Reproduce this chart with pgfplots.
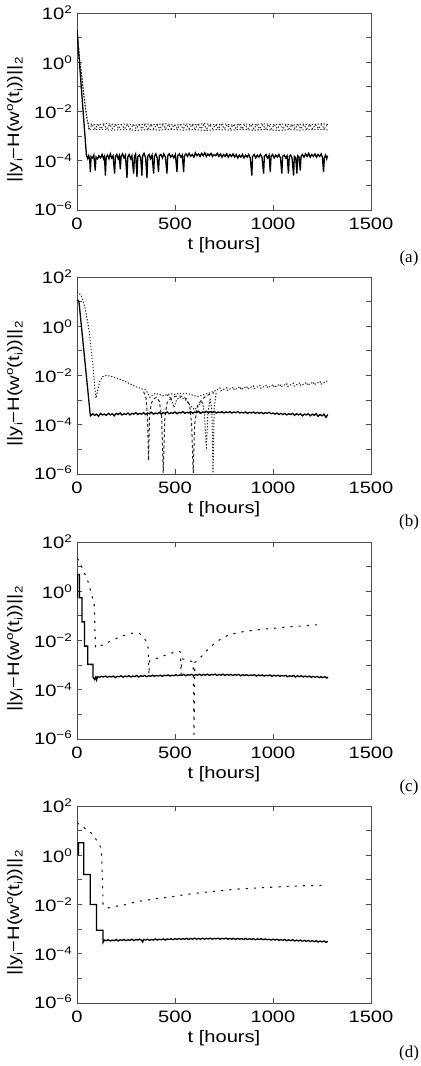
\documentclass[border=0pt]{standalone}
\usepackage{fontspec}
\setmainfont{Liberation Sans}[FakeStretch=1.22]
\newfontfamily\labelserif{Liberation Serif}
\usepackage{pgfplots}
\pgfplotsset{compat=1.18}

% raised / lowered small text for exponents and indices
\newcommand\supx[1]{\raisebox{6bp}{\fontsize{11bp}{11bp}\selectfont #1}}
\newcommand\subx[1]{\raisebox{-3.5bp}{\fontsize{11bp}{11bp}\selectfont #1}}

\pgfplotsset{
  errpanel/.style={
    scale only axis, width=294bp, height=197bp, anchor=south west,
    xmin=0, xmax=1500, ymin=1e-6, ymax=1e2,
    xtick={0,500,1000,1500}, xticklabels={0,500,1000,1500},
    ytick={1e-6,1e-4,1e-2,1,1e2}, minor ytick={1e-5,1e-3,1e-1,1e1},
    yticklabels={\raisebox{3bp}{10\supx{−6}},10\supx{−4},10\supx{−2},10\supx{0},\raisebox{-6bp}{10\supx{2}}},
    tick align=inside, major tick length=5bp, minor tick length=5bp,
    axis line style={black!70, line width=0.9bp},
    tick style={black!70, line width=0.9bp},
    tick label style={font=\fontsize{16.5bp}{19bp}\selectfont},
    label style={font=\fontsize{16.5bp}{19bp}\selectfont},
    yticklabel style={inner sep=0pt, xshift=-5bp},
    xticklabel style={inner sep=0pt, yshift=-8bp},
    xlabel={t\,\,[hours]},
    xlabel style={at={(axis description cs:0.5,0)}, anchor=center, yshift=-35bp},
    ylabel={||y\subx{i}−H(w\supx{o}(t\subx{i}))||\subx{2}},
    ylabel style={at={(axis description cs:-0.211,0.457)}, anchor=center},
  },
  sol/.style={black, line width=1.3bp, mark=none},
  fdots/.style={black!85, line width=1bp, dash pattern=on 1.3bp off 1.7bp, mark=none},
  fdash/.style={black!85, line width=1bp, dash pattern=on 3bp off 2.5bp, mark=none},
  sdots/.style={black!90, line width=1.1bp, dash pattern=on 2.2bp off 6bp, mark=none},
}

\begin{document}
\begin{tikzpicture}
\useasboundingbox (0,0) rectangle (421bp,1066bp);

% ---------------- (a) ----------------
\begin{semilogyaxis}[errpanel, at={(77bp,856bp)}]
\addplot[fdots] coordinates {(0,25)(5,8)(14,1.0)(22,0.4)(31,0.083)(42,0.017)(54,3.7e-3)(62,3.1e-3)
 (100,2.9e-3)(150,3.2e-3)(200,2.9e-3)(250,3.1e-3)(300,2.8e-3)(350,3.1e-3)(400,2.9e-3)(450,3.2e-3)
 (500,2.8e-3)(550,3.1e-3)(600,2.9e-3)(650,3.2e-3)(700,2.9e-3)(750,3.1e-3)(800,2.8e-3)(850,3.1e-3)
 (900,2.9e-3)(950,3.2e-3)(1000,2.9e-3)(1050,3.1e-3)(1100,2.8e-3)(1150,3.1e-3)(1200,2.9e-3)(1250,3.2e-3)(1280,3.0e-3)};
\addplot[fdots] coordinates {(0,20)(6,6)(15,0.8)(24,0.3)(33,0.06)(44,0.012)(56,3e-3)
 (62,2.0e-3)(77,2.9e-3)(92,2.0e-3)(107,2.9e-3)(122,2.0e-3)(137,2.9e-3)(152,2.0e-3)(167,2.9e-3)
 (182,2.0e-3)(197,2.9e-3)(212,2.0e-3)(227,2.9e-3)(242,2.0e-3)(257,2.9e-3)(272,2.0e-3)(287,2.9e-3)
 (302,2.0e-3)(317,2.9e-3)(332,2.0e-3)(347,2.9e-3)(362,2.0e-3)(377,2.9e-3)(392,2.0e-3)(407,2.9e-3)
 (422,2.0e-3)(437,2.9e-3)(452,2.0e-3)(467,2.9e-3)(482,2.0e-3)(497,2.9e-3)(512,2.0e-3)(527,2.9e-3)
 (542,2.0e-3)(557,2.9e-3)(572,2.0e-3)(587,2.9e-3)(602,2.0e-3)(617,2.9e-3)(632,2.0e-3)(647,2.9e-3)
 (662,2.0e-3)(677,2.9e-3)(692,2.0e-3)(707,2.9e-3)(722,2.0e-3)(737,2.9e-3)(752,2.0e-3)(767,2.9e-3)
 (782,2.0e-3)(797,2.9e-3)(812,2.0e-3)(827,2.9e-3)(842,2.0e-3)(857,2.9e-3)(872,2.0e-3)(887,2.9e-3)
 (902,2.0e-3)(917,2.9e-3)(932,2.0e-3)(947,2.9e-3)(962,2.0e-3)(977,2.9e-3)(992,2.0e-3)(1007,2.9e-3)
 (1022,2.0e-3)(1037,2.9e-3)(1052,2.0e-3)(1067,2.9e-3)(1082,2.0e-3)(1097,2.9e-3)(1112,2.0e-3)(1127,2.9e-3)
 (1142,2.0e-3)(1157,2.9e-3)(1172,2.0e-3)(1187,2.9e-3)(1202,2.0e-3)(1217,2.9e-3)(1232,2.0e-3)(1247,2.9e-3)
 (1262,2.0e-3)(1277,2.9e-3)};
\addplot[fdots] coordinates {(58,2.2e-3)(62,1.8e-3)(120,1.9e-3)(180,1.75e-3)(240,1.85e-3)(300,1.7e-3)
 (360,1.85e-3)(420,1.75e-3)(480,1.9e-3)(540,1.75e-3)(600,1.85e-3)(660,1.7e-3)(720,1.85e-3)(780,1.75e-3)
 (840,1.9e-3)(900,1.75e-3)(960,1.85e-3)(1020,1.7e-3)(1080,1.85e-3)(1140,1.75e-3)(1200,1.9e-3)(1280,1.8e-3)};
\addplot[sol] coordinates {(0,20)(48,1.7e-4)
 (55,1.2e-4)(60,1.6e-4)(65,1.1e-4)(68,3.5e-5)(72,1.5e-4)(80,1.3e-4)(86,1.7e-4)(93,4e-5)(97,1.4e-4)
 (105,1.2e-4)(112,1.6e-4)(120,1.3e-4)(128,1.8e-4)(135,1.2e-4)(140,1.5e-4)(145,2.5e-5)(149,1.4e-4)
 (156,1.7e-4)(163,1.2e-4)(170,1.9e-4)(177,1.3e-4)(184,1.6e-4)(192,3e-5)(196,1.5e-4)(203,1.8e-4)
 (210,1.2e-4)(216,1.6e-4)(221,4.5e-5)(225,1.5e-4)(232,1.9e-4)(240,1.3e-4)(247,1.7e-4)(255,2e-5)
 (259,1.4e-4)(266,1.8e-4)(274,1.2e-4)(280,1.6e-4)(289,3e-5)(293,1.5e-4)(299,1.9e-4)(306,2.2e-5)
 (310,1.4e-4)(318,1.7e-4)(325,1.3e-4)(331,2.5e-5)(335,1.6e-4)(342,2e-4)(350,1.3e-4)(357,2e-5)
 (361,1.5e-4)(368,1.8e-4)(375,1.2e-4)(383,1.7e-4)(391,3e-5)(395,1.5e-4)(402,1.9e-4)(409,1.3e-4)
 (416,3.5e-5)(420,1.6e-4)(428,1.8e-4)(436,1.3e-4)(443,1.9e-4)(451,1.4e-4)(459,3e-5)(463,1.6e-4)
 (470,1.9e-4)(478,1.4e-4)(486,1.7e-4)(494,1.3e-4)(502,1.8e-4)(510,3.5e-5)(514,1.6e-4)(522,1.9e-4)
 (530,1.4e-4)(537,1.7e-4)(544,3.5e-5)(548,1.6e-4)(556,1.9e-4)(564,1.5e-4)(572,2e-4)(580,1.5e-4)
 (588,1.8e-4)(596,1.4e-4)(604,2.1e-4)(612,1.6e-4)(620,1.9e-4)(628,1.5e-4)(636,2e-4)(644,1.6e-4)
 (652,2.1e-4)(660,1.5e-4)(668,1.9e-4)(676,1.6e-4)(684,2e-4)(692,1.5e-4)(700,1.8e-4)(708,1.6e-4)
 (716,2e-4)(724,1.5e-4)(732,1.9e-4)(740,1.4e-4)(748,1.8e-4)(756,1.5e-4)(764,1.9e-4)(772,1.4e-4)
 (780,1.8e-4)(788,1.5e-4)(796,1.9e-4)(804,1.4e-4)(812,1.8e-4)(820,1.3e-4)(828,1.7e-4)(836,1.4e-4)
 (844,1.8e-4)(852,1.3e-4)(860,1.7e-4)(868,1.4e-4)(876,1.8e-4)(884,1.3e-4)(892,2.5e-5)(896,1.5e-4)
 (904,1.8e-4)(912,1.3e-4)(920,1.7e-4)(928,1.4e-4)(936,1.8e-4)(944,1.4e-4)(952,3e-5)(956,1.5e-4)
 (964,1.8e-4)(972,1.3e-4)(980,1.7e-4)(986,3.5e-5)(990,1.5e-4)(998,1.8e-4)(1006,1.3e-4)(1014,1.7e-4)
 (1022,1.4e-4)(1030,1.8e-4)(1038,1.3e-4)(1045,3e-5)(1049,1.5e-4)(1057,1.7e-4)(1065,1.3e-4)(1072,1.6e-4)
 (1079,3e-5)(1083,1.5e-4)(1090,1.7e-4)(1097,1.3e-4)(1105,2.5e-5)(1109,1.5e-4)(1116,1.3e-4)(1122,3e-5)
 (1126,1.6e-4)(1133,1.4e-4)(1139,4e-5)(1143,1.5e-4)(1150,1.8e-4)(1158,1.4e-4)(1166,1.9e-4)(1174,1.5e-4)
 (1182,2e-4)(1190,1.4e-4)(1198,1.8e-4)(1206,1.5e-4)(1214,1.9e-4)(1222,1.4e-4)(1230,1.8e-4)(1238,1.5e-4)
 (1246,1.9e-4)(1252,1.4e-4)(1258,3.5e-5)(1262,1.3e-4)(1268,1.7e-4)(1274,1.2e-4)(1278,1.6e-4)};
\end{semilogyaxis}

% ---------------- (b) ----------------
\begin{semilogyaxis}[errpanel, at={(77bp,592bp)}]
\addplot[fdots] coordinates {(0,25)(10,22)(22,17)(39,6.5)(55,1.5)(65,0.4)(75,0.07)(82,0.023)(90,3.6e-3)
 (97,1.2e-3)(103,2e-3)(115,5.5e-3)(130,8.9e-3)(150,1e-2)(180,9e-3)(210,7.5e-3)(240,6e-3)(270,4.6e-3)
 (300,3.5e-3)(330,2.9e-3)(350,2.6e-3)(362,1.9e-3)(372,1.3e-3)(385,1.6e-3)(400,1.9e-3)(420,1.7e-3)
 (440,1.5e-3)(460,1.7e-3)(480,1.8e-3)(500,1.7e-3)(520,1.9e-3)(540,1.8e-3)(560,1.9e-3)(580,1.7e-3)
 (600,1.5e-3)(620,1.4e-3)(640,1.6e-3)(660,1.8e-3)(680,2e-3)
 (700,2.29e-3)(730,3.1e-3)(734,2.39e-3)(764,3.2e-3)(768,2.48e-3)(798,3.35e-3)(802,2.59e-3)(832,3.5e-3)
 (836,2.69e-3)(866,3.63e-3)(870,2.81e-3)(900,3.79e-3)(904,2.92e-3)(934,3.95e-3)(938,3.04e-3)(968,4.1e-3)
 (972,3.17e-3)(1002,4.28e-3)(1006,3.3e-3)(1036,4.45e-3)(1040,3.44e-3)(1070,4.64e-3)(1074,3.57e-3)(1104,4.82e-3)
 (1108,3.72e-3)(1138,5.02e-3)(1142,3.88e-3)(1172,5.24e-3)(1176,4.04e-3)(1206,5.45e-3)(1210,4.2e-3)(1240,5.67e-3)
 (1244,4.38e-3)(1274,5.9e-3)(1280,6e-3)};
\addplot[fdash] coordinates {(340,2.2e-3)(352,1.2e-3)(360,2e-4)(365,3.5e-6)(370,2e-4)(378,7e-4)(390,1.1e-3)
 (405,1.3e-3)(420,9e-4)(432,2e-4)(440,1.1e-6)(448,2e-4)(460,8e-4)(480,1.2e-3)(500,1.4e-3)(520,1.5e-3)
 (540,1.4e-3)(560,1.1e-3)(575,6e-4)(585,1e-4)(593,1.1e-6)(600,1e-4)(615,6e-4)(635,1e-3)(655,1.4e-3)
 (675,1.7e-3)(700,2e-3)};
\addplot[fdots] coordinates {(460,1.6e-3)(480,1.2e-3)(495,5e-4)(505,9e-4)(520,1.3e-3)(550,1.1e-3)
 (580,6e-4)(600,4e-4)(620,6e-4)(640,9e-4)(650,3e-4)(660,1e-5)(668,3e-4)(680,1.2e-3)(688,4e-4)
 (694,1.1e-6)(700,5e-4)(710,2e-3)};
\addplot[sol] coordinates {(3,12)(10,10)(68,2.4e-4)
 (70,2.3e-4)(80,2.8e-4)(90,2.4e-4)(100,2.7e-4)(110,2.2e-4)(120,2.9e-4)(130,2.5e-4)(140,2.7e-4)(150,2.4e-4)
 (160,2.9e-4)(170,2.5e-4)(180,2.8e-4)(190,2.3e-4)(200,2.9e-4)(210,2.6e-4)(220,3.0e-4)(230,2.5e-4)
 (240,2.8e-4)(250,2.6e-4)(260,3.0e-4)(270,2.5e-4)(280,2.9e-4)(290,2.7e-4)(300,3.1e-4)(310,2.6e-4)
 (320,2.9e-4)(330,2.7e-4)(340,3.1e-4)(350,2.6e-4)(360,3.0e-4)(370,2.8e-4)(380,3.2e-4)(390,2.7e-4)
 (400,3.0e-4)(410,2.8e-4)(420,3.2e-4)(430,2.7e-4)(440,3.1e-4)(450,2.9e-4)(460,3.3e-4)(470,2.8e-4)
 (480,3.1e-4)(490,2.9e-4)(500,3.3e-4)(510,2.8e-4)(520,3.2e-4)(530,3.0e-4)(540,3.4e-4)(550,2.9e-4)
 (560,3.2e-4)(570,3.0e-4)(580,3.4e-4)(590,2.9e-4)(600,3.3e-4)(610,3.1e-4)(620,3.5e-4)(630,2.9e-4)
 (640,3.3e-4)(650,3.1e-4)(660,3.5e-4)(670,3.0e-4)(680,3.4e-4)(690,3.1e-4)(700,3.5e-4)(710,3.0e-4)
 (720,3.3e-4)(730,3.1e-4)(740,3.4e-4)(750,3.0e-4)(760,3.3e-4)(770,3.1e-4)(780,3.4e-4)(790,3.0e-4)
 (800,3.3e-4)(810,3.1e-4)(820,3.4e-4)(830,3.0e-4)(840,3.2e-4)(850,3.0e-4)(860,3.3e-4)(870,2.9e-4)
 (880,3.2e-4)(890,3.0e-4)(900,3.3e-4)(910,2.9e-4)(920,3.2e-4)(930,2.9e-4)(940,3.2e-4)(950,2.8e-4)
 (960,3.1e-4)(970,2.9e-4)(980,3.2e-4)(990,2.8e-4)(1000,3.0e-4)(1010,2.7e-4)(1020,3.0e-4)(1030,2.6e-4)
 (1040,2.9e-4)(1050,2.6e-4)(1060,2.9e-4)(1070,2.5e-4)(1080,2.8e-4)(1090,2.6e-4)(1100,2.9e-4)(1110,2.4e-4)
 (1120,2.8e-4)(1130,2.5e-4)(1140,2.8e-4)(1150,2.3e-4)(1160,2.7e-4)(1170,2.5e-4)(1180,2.8e-4)(1190,2.3e-4)
 (1200,2.7e-4)(1210,2.4e-4)(1220,2.8e-4)(1230,2.2e-4)(1240,2.6e-4)(1250,2.3e-4)(1260,2.7e-4)(1270,2.0e-4)
 (1280,2.6e-4)};
\end{semilogyaxis}

% ---------------- (c) ----------------
\begin{semilogyaxis}[errpanel, at={(77bp,327bp)}]
\addplot[sdots] coordinates {(0,21)(10,18)(20,12)(30,7)(40,5)(50,3.5)(60,2)(70,1)(80,0.5)(88,0.3)
 (92,0.02)(95,5e-3)(120,6e-3)(150,8e-3)(180,1e-2)(210,1.3e-2)(240,1.6e-2)(270,1.9e-2)(300,2.1e-2)
 (320,1.9e-2)(340,1.3e-2)(355,9e-3)(363,5e-3)(367,4e-4)(370,1.5e-3)(380,1.6e-3)(400,1.8e-3)(430,2.2e-3)
 (460,2.7e-3)(490,3.2e-3)(520,3.7e-3)(528,3.4e-3)(531,4e-4)(534,1.8e-3)(560,1.7e-3)(585,1.4e-3)
 (593,1.2e-3)(597,1.5e-6)(601,1.3e-3)(615,1.5e-3)(640,2.5e-3)(670,4.5e-3)(700,7.5e-3)(730,1.1e-2)
 (760,1.5e-2)(800,1.9e-2)(850,2.3e-2)(900,2.6e-2)(950,2.9e-2)(1000,3.1e-2)(1050,3.4e-2)(1100,3.7e-2)
 (1150,3.9e-2)(1200,4.2e-2)(1250,4.5e-2)};
\addplot[sol] coordinates {(2,0.5)(3,4.8)(13,4.8)(13,0.54)(25,0.54)(25,0.057)(38,0.057)(38,5.9e-3)
 (55,5.9e-3)(55,1.07e-3)(82,1.07e-3)
 (82,3.2e-4)(90,2.6e-4)(96,3.3e-4)(100,2.5e-4)(105,3.4e-4)(115,3.2e-4)(125,3.5e-4)(135,3.3e-4)(145,3.6e-4)
 (155,3.2e-4)(165,3.5e-4)(175,3.3e-4)(185,3.6e-4)(195,3.1e-4)(205,3.5e-4)(215,3.4e-4)(225,3.7e-4)
 (235,3.2e-4)(245,3.6e-4)(255,3.4e-4)(265,3.7e-4)(275,3.3e-4)(285,3.6e-4)(295,3.4e-4)(305,3.8e-4)
 (315,3.3e-4)(325,3.7e-4)(335,3.5e-4)(345,3.8e-4)(355,3.4e-4)(365,3.7e-4)(375,3.5e-4)(385,3.9e-4)
 (395,3.5e-4)(405,3.8e-4)(415,3.6e-4)(425,3.9e-4)(435,3.5e-4)(445,3.9e-4)(455,3.7e-4)(465,4.0e-4)
 (475,3.6e-4)(485,3.9e-4)(495,3.7e-4)(505,4.1e-4)(515,3.7e-4)(525,4.0e-4)(535,3.8e-4)(545,4.2e-4)
 (555,3.7e-4)(565,4.1e-4)(575,3.9e-4)(585,4.2e-4)(595,3.8e-4)(605,4.1e-4)(615,3.9e-4)(625,4.3e-4)
 (635,3.8e-4)(645,4.2e-4)(655,3.9e-4)(665,4.3e-4)(675,3.8e-4)(685,4.2e-4)(695,4.0e-4)(705,4.3e-4)
 (715,3.8e-4)(725,4.2e-4)(735,3.9e-4)(745,4.3e-4)(755,3.8e-4)(765,4.2e-4)(775,3.9e-4)(785,4.2e-4)
 (795,3.8e-4)(805,4.1e-4)(815,3.9e-4)(825,4.2e-4)(835,3.7e-4)(845,4.1e-4)(855,3.8e-4)(865,4.1e-4)
 (875,3.7e-4)(885,4.0e-4)(895,3.8e-4)(905,4.1e-4)(915,3.6e-4)(925,4.0e-4)(935,3.7e-4)(945,4.0e-4)
 (955,3.6e-4)(965,3.9e-4)(975,3.7e-4)(985,4.0e-4)(995,3.5e-4)(1005,3.9e-4)(1015,3.6e-4)(1025,3.9e-4)
 (1035,3.5e-4)(1045,3.8e-4)(1055,3.6e-4)(1065,3.8e-4)(1075,3.4e-4)(1085,3.7e-4)(1095,3.5e-4)(1105,3.8e-4)
 (1115,3.3e-4)(1125,3.7e-4)(1135,3.4e-4)(1145,3.7e-4)(1155,3.3e-4)(1165,3.6e-4)(1175,3.3e-4)(1185,3.6e-4)
 (1195,3.2e-4)(1205,3.5e-4)(1215,3.2e-4)(1225,3.5e-4)(1235,3.1e-4)(1245,3.4e-4)(1255,3.1e-4)(1265,3.4e-4)
 (1275,3.0e-4)(1280,3.3e-4)};
\end{semilogyaxis}

% ---------------- (d) ----------------
\begin{semilogyaxis}[errpanel, at={(77bp,63bp)}]
\addplot[sdots] coordinates {(0,21)(30,14)(65,9.3)(90,5.5)(124,1.9)(130,0.1)(133,9.3e-3)(150,7.5e-3)
 (167,7.3e-3)(200,8.5e-3)(250,1e-2)(303,1.3e-2)(400,1.7e-2)(473,2e-2)(550,2.5e-2)(643,3.1e-2)(730,3.6e-2)
 (813,4.2e-2)(900,4.6e-2)(983,5e-2)(1070,5.4e-2)(1153,5.75e-2)(1272,6e-2)};
\addplot[sol] coordinates {(7,1)(7,3.2)(34,3.2)(34,0.166)(68,0.166)(68,1e-2)(99,1e-2)(99,9e-4)
 (133,9e-4)
 (133,2.9e-4)(140,3.6e-4)(150,3.4e-4)(160,3.7e-4)(170,3.3e-4)(180,3.6e-4)(190,3.4e-4)(200,3.8e-4)
 (210,3.3e-4)(220,3.7e-4)(230,3.5e-4)(240,3.8e-4)(250,3.4e-4)(260,3.7e-4)(270,3.5e-4)(280,3.9e-4)
 (290,3.4e-4)(300,3.8e-4)(310,3.6e-4)(320,3.9e-4)(330,3.5e-4)(335,3.0e-4)(340,3.8e-4)(350,3.6e-4)
 (360,3.9e-4)(370,3.5e-4)(380,3.8e-4)(390,3.6e-4)(400,4.0e-4)(410,3.6e-4)(420,3.9e-4)(430,3.7e-4)
 (440,4.0e-4)(450,3.6e-4)(460,4.0e-4)(470,3.8e-4)(480,4.1e-4)(490,3.7e-4)(500,4.1e-4)(510,3.8e-4)
 (520,4.2e-4)(530,3.8e-4)(540,4.1e-4)(550,3.9e-4)(560,4.2e-4)(570,3.8e-4)(580,4.2e-4)(590,3.9e-4)
 (600,4.3e-4)(610,3.9e-4)(620,4.2e-4)(630,3.9e-4)(640,4.3e-4)(650,3.9e-4)(660,4.2e-4)(670,4.0e-4)
 (680,4.3e-4)(690,3.9e-4)(700,4.2e-4)(710,4.0e-4)(720,4.3e-4)(730,3.9e-4)(740,4.2e-4)(750,4.0e-4)
 (760,4.3e-4)(770,3.9e-4)(780,4.2e-4)(790,3.9e-4)(800,4.2e-4)(810,3.8e-4)(820,4.2e-4)(830,3.9e-4)
 (840,4.1e-4)(850,3.8e-4)(860,4.2e-4)(870,3.8e-4)(880,4.1e-4)(890,3.8e-4)(900,4.1e-4)(910,3.7e-4)
 (920,4.0e-4)(930,3.8e-4)(940,4.1e-4)(950,3.7e-4)(960,4.0e-4)(970,3.7e-4)(980,3.9e-4)(990,3.6e-4)
 (1000,3.9e-4)(1010,3.6e-4)(1020,3.9e-4)(1030,3.5e-4)(1040,3.8e-4)(1050,3.5e-4)(1060,3.8e-4)(1070,3.4e-4)
 (1080,3.7e-4)(1090,3.4e-4)(1100,3.7e-4)(1110,3.3e-4)(1120,3.6e-4)(1130,3.3e-4)(1140,3.6e-4)(1150,3.2e-4)
 (1160,3.5e-4)(1170,3.2e-4)(1180,3.5e-4)(1190,3.1e-4)(1200,3.4e-4)(1210,3.1e-4)(1220,3.4e-4)(1230,3.0e-4)
 (1240,3.3e-4)(1250,3.0e-4)(1260,3.3e-4)(1270,2.9e-4)(1280,3.2e-4)};
\end{semilogyaxis}

% panel letters
\begin{scope}[every node/.style={font=\labelserif\fontsize{17bp}{19bp}\selectfont, inner sep=0pt}]
\node at (409bp,808bp) {(a)};
\node at (409bp,544bp) {(b)};
\node at (409bp,279bp) {(c)};
\node at (409bp,13bp) {(d)};
\end{scope}
\end{tikzpicture}
\end{document}
